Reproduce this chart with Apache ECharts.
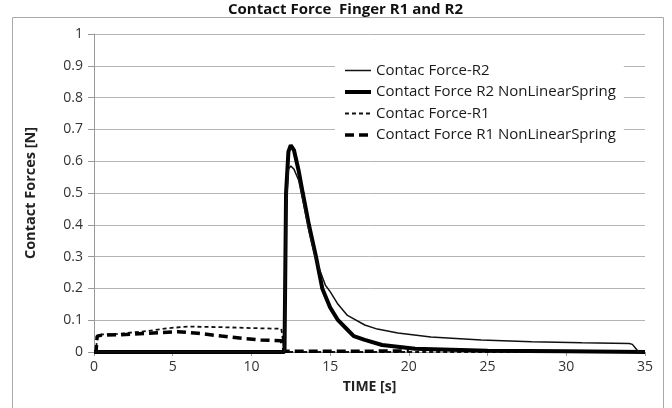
<!DOCTYPE html>
<html>
<head>
<meta charset="utf-8">
<script src="https://cdn.jsdelivr.net/npm/echarts@6/dist/echarts.min.js"></script>
<style>
  html, body { margin: 0; padding: 0; background: #fff; }
  #main { width: 672px; height: 408px; }
</style>
</head>
<body>
<div id="main"></div>
<script>
// values (time in s, force in N)
const r2Time   = [0, 12.1, 12.2, 12.35, 12.5, 12.7, 13.0, 13.3, 13.7, 14.1, 14.7, 15.0, 15.5, 16.1, 17.2, 18.0, 19.3, 21.4, 24.6, 27.8, 31.0, 34.0, 34.2, 34.4, 34.6, 35];
const r2Force  = [0, 0, 0.45, 0.575, 0.585, 0.575, 0.54, 0.47, 0.37, 0.29, 0.21, 0.19, 0.15, 0.115, 0.085, 0.072, 0.06, 0.047, 0.038, 0.032, 0.029, 0.027, 0.024, 0.012, 0, 0];

const r2nlTime  = [0, 12.1, 12.2, 12.35, 12.5, 12.7, 13.0, 13.26, 13.65, 14.1, 14.5, 15.0, 15.5, 16.1, 16.5, 17.2, 18.3, 20.4, 25, 30, 35];
const r2nlForce = [0, 0, 0.5, 0.63, 0.65, 0.635, 0.57, 0.5, 0.4, 0.3, 0.2, 0.14, 0.1, 0.07, 0.05, 0.038, 0.022, 0.01, 0.004, 0.002, 0];

const r1Time  = [0, 0.13, 0.2, 0.5, 1.5, 3.4, 4.7, 6.0, 8.1, 10.2, 11.9, 12.1, 35];
const r1Force = [0, 0, 0.05, 0.055, 0.057, 0.066, 0.075, 0.08, 0.078, 0.075, 0.073, 0, 0];

const r1nlTime  = [0, 0.13, 0.2, 0.5, 2.0, 3.4, 5.3, 6.6, 8.1, 9.4, 10.6, 11.9, 12.1, 20];
const r1nlForce = [0, 0, 0.05, 0.053, 0.055, 0.059, 0.064, 0.059, 0.05, 0.043, 0.038, 0.035, 0.002, 0.003];

const seriesNames = ['Contac Force-R2', 'Contact Force R2 NonLinearSpring', 'Contac Force-R1', 'Contact Force R1 NonLinearSpring'];
const yTicks = [0, 0.1, 0.2, 0.3, 0.4, 0.5, 0.6, 0.7, 0.8, 0.9, 1];

function pairs(t, v) { return t.map((x, i) => [x, v[i]]); }

const styles = [
  { color: '#111', width: 1.5 },
  { color: '#000', width: 4 },
  { color: '#111', width: 1.8, type: [4, 3] },
  { color: '#000', width: 3.5, type: [9, 5] }
];

const font = '"Open Sans", "Liberation Sans", sans-serif';
const chart = echarts.init(document.getElementById('main'), null, { renderer: 'canvas' });

chart.setOption({
  backgroundColor: '#fff',
  animation: false,
  textStyle: { fontFamily: font },
  graphic: [
    {
      type: 'rect', silent: true, z: -1,
      shape: { x: 12.5, y: 17.5, width: 651, height: 400 },
      style: { fill: 'none', stroke: '#a8a8a8', lineWidth: 1 }
    },
    {
      type: 'text', silent: true, left: 228, top: 2,
      style: {
        text: 'Contact Force  Finger R1 and R2', x: 0, y: 0,
        font: 'bold 15px "Open Sans", sans-serif', fill: '#111'
      }
    }
  ],
  grid: { left: 94, right: 27, top: 34, bottom: 56 },
  legend: {
    orient: 'vertical',
    left: 335, top: 61,
    itemWidth: 26, itemHeight: 14, itemGap: 6.5,
    padding: [2, 8, 2, 8],
    backgroundColor: '#fff',
    itemStyle: { opacity: 0 },
    textStyle: { fontSize: 15, lineHeight: 15, color: '#1a1a1a', fontFamily: font },
    data: seriesNames.map((n, i) => ({ name: n, lineStyle: { width: styles[i].width, type: styles[i].type || 'solid' } }))
  },
  xAxis: {
    type: 'value', min: 0, max: 35, interval: 5,
    name: 'TIME [s]', nameLocation: 'middle', nameGap: 28,
    nameTextStyle: { fontSize: 14, fontWeight: 'bold', color: '#222' },
    axisLine: { lineStyle: { color: '#999', width: 1 } },
    axisTick: { show: true, length: 4, lineStyle: { color: '#999' } },
    axisLabel: { fontSize: 14, color: '#333', margin: 8 },
    splitLine: { show: false }
  },
  yAxis: {
    type: 'value', min: 0, max: 1, interval: 0.1,
    name: 'Contact Forces [N]', nameLocation: 'middle', nameGap: 56,
    nameTextStyle: { fontSize: 14.5, fontWeight: 'bold', color: '#222' },
    axisLine: { show: true, lineStyle: { color: '#999', width: 1 } },
    axisTick: { show: true, inside: false, length: 6, lineStyle: { color: '#999' } },
    axisLabel: {
      fontSize: 14, color: '#333', margin: 11,
      formatter: v => { const t = yTicks.find(k => Math.abs(k - v) < 1e-6); return t === undefined ? '' : String(t); }
    },
    splitLine: { show: true, lineStyle: { color: '#b5b5b5', width: 1 } }
  },
  series: [
    {
      name: seriesNames[0], type: 'line', showSymbol: false, symbol: 'none',
      lineStyle: styles[0], itemStyle: { color: styles[0].color },
      data: pairs(r2Time, r2Force), z: 4
    },
    {
      name: seriesNames[1], type: 'line', showSymbol: false, symbol: 'none',
      lineStyle: styles[1], itemStyle: { color: styles[1].color },
      data: pairs(r2nlTime, r2nlForce), z: 3
    },
    {
      name: seriesNames[2], type: 'line', showSymbol: false, symbol: 'none',
      lineStyle: styles[2], itemStyle: { color: styles[2].color },
      data: pairs(r1Time, r1Force), z: 2
    },
    {
      name: seriesNames[3], type: 'line', showSymbol: false, symbol: 'none',
      lineStyle: styles[3], itemStyle: { color: styles[3].color },
      data: pairs(r1nlTime, r1nlForce), z: 2
    }
  ]
});
</script>
</body>
</html>
